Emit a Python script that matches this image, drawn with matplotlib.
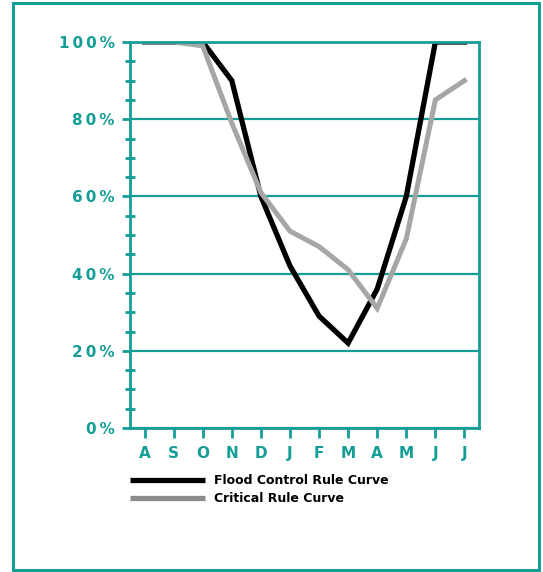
import matplotlib.pyplot as plt
from matplotlib.patches import Rectangle
from matplotlib.lines import Line2D

# 数据
months = ['A', 'S', 'O', 'N', 'D', 'J', 'F', 'M', 'A', 'M', 'J', 'J']
flood_control = [100, 100, 100, 90, 60, 42, 29, 22, 36, 60, 100, 100]
critical = [100, 100, 99, 79, 61, 51, 47, 41, 31, 49, 85, 90]
y_ticks = [0, 20, 40, 60, 80, 100]
y_labels = ['0\u2009%', '2\u20090\u2009%', '4\u20090\u2009%', '6\u20090\u2009%', '8\u20090\u2009%', '1\u20090\u20090\u2009%']

teal = '#149e96'

fig = plt.figure(figsize=(5.43, 5.72), dpi=100)

# 外框
fig.patches.append(Rectangle((13 / 543, 2 / 572), 526 / 543, 567 / 572,
                             transform=fig.transFigure, fill=False,
                             edgecolor=teal, linewidth=2.2))

ax = fig.add_axes([130 / 543, 1 - 428 / 572, 349 / 543, 386 / 572])
x = list(range(len(months)))
ax.plot(x, flood_control, color='black', linewidth=3.8, solid_joinstyle='miter')
ax.plot(x, critical, color='#a6a6a6', linewidth=3.6, solid_joinstyle='miter')

ax.set_xlim(-0.5, 11.5)
ax.set_ylim(0, 100)
ax.set_xticks(x)
ax.set_xticklabels(months)
ax.set_yticks(y_ticks)
ax.set_yticklabels(y_labels)
ax.set_yticks(range(5, 100, 5), minor=True)

for s in ax.spines.values():
    s.set_color(teal)
    s.set_linewidth(2)
ax.grid(axis='y', color=teal, linewidth=1.6)
ax.set_axisbelow(True)

ax.tick_params(axis='x', colors=teal, length=7, width=2, pad=6,
               labelsize=11, labelcolor=teal)
ax.tick_params(axis='y', which='major', colors=teal, length=6, width=2,
               pad=5, labelsize=11, labelcolor=teal)
ax.tick_params(axis='y', which='minor', colors=teal, length=7, width=2,
               direction='inout')
for lab in ax.get_xticklabels() + ax.get_yticklabels():
    lab.set_fontweight('bold')

# 图例
fig.add_artist(Line2D([130 / 543, 205 / 543], [1 - 480 / 572] * 2,
                      color='black', linewidth=3.8, solid_capstyle='butt'))
fig.add_artist(Line2D([130 / 543, 205 / 543], [1 - 498 / 572] * 2,
                      color='#8c8c8c', linewidth=3.8, solid_capstyle='butt'))
fig.text(214 / 543, 1 - 481 / 572, 'Flood Control Rule Curve',
         fontsize=9, fontweight='bold', va='center', ha='left')
fig.text(214 / 543, 1 - 498 / 572, 'Critical Rule Curve',
         fontsize=9, fontweight='bold', va='center', ha='left')

fig.savefig('out.png', dpi=100)
